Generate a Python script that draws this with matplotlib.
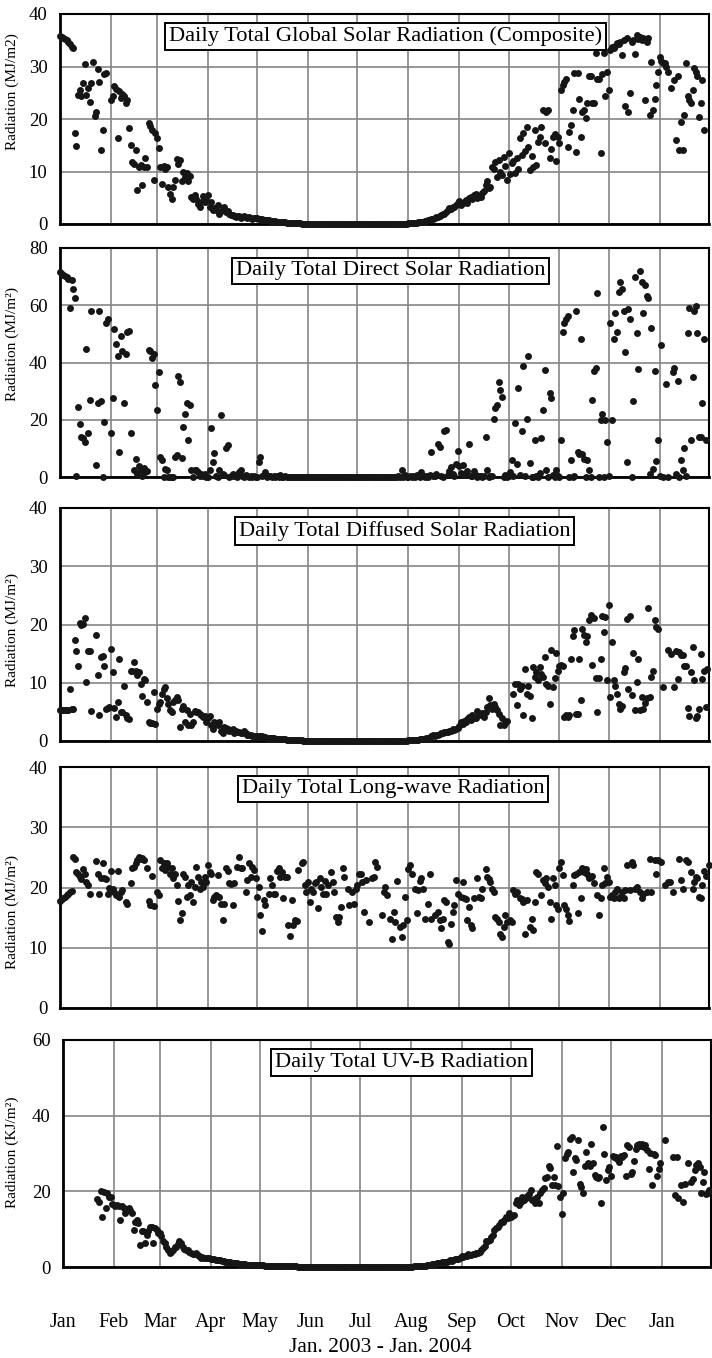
import numpy as np
import matplotlib
matplotlib.use("Agg")
import matplotlib.pyplot as plt

plt.rcParams["font.family"] = ["Liberation Serif", "DejaVu Serif"]

nan = float("nan")

# ---------------------------------------------------------------- calendar
month_start = [0, 31, 59, 90, 120, 151, 181, 212, 243, 273, 304, 334, 365]
month_labels = ["Jan", "Feb", "Mar", "Apr", "May", "Jun", "Jul",
                "Aug", "Sep", "Oct", "Nov", "Dec", "Jan"]

zeros_30 = [0.0, 0.0, 0.0, 0.0, 0.0, 0.0, 0.0, 0.0, 0.0, 0.0,
            0.0, 0.0, 0.0, 0.0, 0.0, 0.0, 0.0, 0.0, 0.0, 0.0,
            0.0, 0.0, 0.0, 0.0, 0.0, 0.0, 0.0, 0.0, 0.0, 0.0]

# ---------------------------------------------------------------- global (MJ/m2)
g_jan = [35.8, 35.6, 35.4, 35.2, 35.0, 34.6, 34.2, 33.8, 33.6, 17.3, 14.9, 24.6, 25.5, 24.3, 26.9, 30.4,
         24.6, 26.0, 23.3, 26.8, 30.9, 20.6, 21.4, 29.5, 27.1, 14.1, 18.0, 28.6, 28.8, nan, nan]
g_feb = [23.7, 24.3, 26.3, 25.8, 16.3, 25.3, 24.0, 24.8, 24.3, 23.0, 23.6, 18.2, 15.0, 11.9, 11.5, 14.1,
         6.5, 10.9, 11.2, 7.4, 10.9, 12.5, 10.9, 19.2, 18.7, 17.9, 8.4, 17.3]
g_mar = [16.3, 14.4, 10.9, 7.6, 11.0, 10.5, 10.9, 7.1, 5.8, 4.7, 7.1, 8.4, 12.3, 11.5, 12.1, 8.1,
         10.0, 9.0, 9.7, 8.1, 9.1, 5.2, 4.7, 5.5, 4.7, 3.8, 3.3, 4.2, 5.3, 4.1, 4.6]
g_apr = [5.5, 3.3, 4.2, 2.7, 3.0, 2.7, 3.6, 2.0, 2.4, 2.7, 3.3, 2.2, 2.5, 1.9, 1.7, 1.7,
         1.5, 1.4, 1.6, 1.5, 1.2, 1.4, 1.5, 1.3, 1.2, 1.4, 1.1, 1.0, 1.2, 1.1]
g_may = [1.1, 1.0, 0.9, 0.9, 0.8, 0.8, 0.7, 0.7, 0.6, 0.6, 0.5, 0.5, 0.45, 0.4, 0.4, 0.35,
         0.3, 0.3, 0.25, 0.25, 0.2, 0.2, 0.15, 0.15, 0.1, 0.1, 0.1, 0.08, 0.06, 0.05, 0.05]
g_jun = zeros_30
g_jul = [0.0, 0.0, 0.0, 0.0, 0.0, 0.0, 0.0, 0.0, 0.0, 0.0, 0.0, 0.0, 0.0, 0.0, 0.0, 0.0,
         0.0, 0.0, 0.0, 0.0, 0.0, 0.0, 0.0, 0.0, 0.0, 0.0, 0.0, 0.0, 0.02, 0.03, 0.05]
g_aug = [0.1, 0.1, 0.15, 0.2, 0.2, 0.25, 0.3, 0.3, 0.35, 0.4, 0.5, 0.6, 0.7, 0.8, 0.9, 1.0,
         1.2, 1.4, 1.3, 1.6, 1.8, 2.0, 1.9, 2.3, 2.6, 3.0, 2.8, 3.2, 3.3, 3.6, 4.0]
g_sep = [4.3, 3.6, 4.0, 4.2, 4.6, 4.0, 5.0, 5.2, 4.8, 5.5, 5.8, 5.0, 5.2, 5.2, 6.0, 6.2,
         7.4, 8.1, 6.8, 7.0, 10.9, 10.5, 11.9, 9.0, 12.2, 10.0, 9.3, 12.8, 11.0, 8.4]
g_oct = [13.5, 9.5, 11.6, 12.0, 9.7, 12.5, 10.5, 16.3, 13.1, 17.3, 14.0, 18.5, 14.7, 10.3, 13.0, 10.9,
         17.9, 11.2, 15.7, 16.5, 18.5, 21.7, 15.4, 21.4, 21.7, 12.5, 14.3, 16.6, 17.2, 12.0, 16.6]
g_nov = [15.5, 25.5, 26.5, 27.1, 27.6, 14.7, 17.6, 18.9, 21.7, 28.7, 13.8, 28.7, 23.9, 16.6, 21.4,
         21.7, 20.1, 23.0, 28.1, 28.1, 23.0, 23.0, 32.5, 27.7, 27.7, 13.5, 28.5, 32.5, 24.3, 29.0]
g_dec = [25.5, 33.1, 33.8, 33.5, 34.0, 34.4, 34.2, 34.7, 32.2, 35.0, 22.5, 35.4, 21.4, 24.9, 34.7, 35.0,
         32.4, 36.0, 35.3, 35.7, 35.0, 35.4, 23.6, 34.7, 35.4, 20.8, 30.9, 21.7, 23.9, 26.5, 29.0]
g_jan2 = [31.9, 31.0, 30.6, 30.6, 30.0, 29.0, nan, 26.0, nan, 27.4, 16.0, 28.1, 14.1, 19.5, 14.1, 20.8,
          30.6, 24.3, 23.6, 23.0, 25.5, 29.7, 29.0, 28.1, 20.4, 23.0, 27.4, 17.9, nan, nan, nan]

# ---------------------------------------------------------------- direct (MJ/m2)
d_jan = [71.5, 71.0, 70.6, 70.3, 69.8, 69.3, 59.2, 68.9, 65.6, 62.7, 0.3, 24.6, 18.4, 13.8, 13.5, 12.1,
         44.8, 15.5, 27.0, 58.0, nan, nan, 4.1, 25.8, 58.0, 26.6, 0.0, 19.3, 53.9, 55.1, nan]
d_feb = [15.5, 27.5, 51.6, 46.3, 42.2, 8.8, 49.2, 44.0, 25.8, 43.0, 50.6, 51.0, 15.5, nan, 2.3, 6.4,
         1.2, 4.0, 2.5, 0.5, 3.0, 1.8, 2.0, 44.5, 44.0, 41.6, 42.8, 32.2]
d_mar = [23.4, 36.6, 7.0, 5.9, 0.0, 2.9, 2.3, 0.0, 0.0, 0.0, 0.0, 7.0, 7.6, 35.4, 33.1, 6.8,
         17.6, 22.0, 25.8, 12.9, 25.2, 2.3, 0.0, 2.6, 2.6, 1.8, 0.5, 1.2, 0.5, 1.2, 0.0]
d_apr = [0.0, 2.3, 17.2, 5.3, 8.4, 0.5, 0.0, 2.3, 21.5, 1.0, 0.6, 10.0, 11.1, 0.0, 0.5, 1.2,
         0.3, 0.6, 0.0, 1.8, 2.6, 0.3, 0.0, 0.6, 0.2, 0.0, 0.5, 0.0, 0.3, 0.0]
d_may = [0.0, 5.3, 7.0, 0.3, 0.6, 1.8, 0.0, 0.5, 0.2, 0.0, 0.3, 0.0, 0.2, 0.0, 0.6, 0.0,
         0.0, 0.2, 0.0, 0.0, 0.1, 0.0, 0.0, 0.0, 0.0, 0.0, 0.0, 0.0, 0.0, 0.0, 0.0]
d_jun = zeros_30
d_jul = [0.0, 0.0, 0.0, 0.0, 0.0, 0.0, 0.0, 0.0, 0.0, 0.0, 0.0, 0.0, 0.0, 0.0, 0.0, 0.0,
         0.0, 0.0, 0.0, 0.0, 0.0, 0.0, 0.0, 0.0, 0.0, 0.5, 0.0, 2.3, 0.0, 0.8, 0.0]
d_aug = [0.0, 0.5, 0.0, 0.3, 0.0, 0.8, 0.2, 0.0, 1.8, 0.5, 0.0, 0.3, 0.0, 0.6, 8.8, 0.2,
         0.5, 1.0, 11.5, 10.6, 0.3, 0.0, 16.2, 16.4, 0.8, 2.1, 3.5, 1.2, 0.5, 4.5, 9.1]
d_sep = [3.8, 1.5, 4.1, 0.8, 1.5, 2.0, 11.5, 0.5, 0.3, 2.0, 0.8, 0.0, 0.3, 0.5, 0.0, 0.3,
         14.1, 2.6, 0.0, 0.5, 0.2, 20.2, 24.0, 25.2, 33.1, 30.5, 27.8, 0.0, 0.6, 0.0]
d_oct = [0.3, 1.8, 6.1, 0.2, 19.0, 4.5, 31.1, 0.8, 16.2, 38.7, 0.3, 20.3, 42.4, 4.9, 0.0, 0.0,
         12.9, 0.5, 0.0, 1.5, 13.5, 23.4, 37.5, 2.3, 0.0, 29.5, 27.5, 0.6, 0.0, 2.3, 0.3]
d_nov = [0.0, 12.9, 50.6, 53.9, 55.1, 56.3, 0.0, 6.1, 0.0, 0.3, 58.0, 8.6, 8.2, 48.3, 8.2,
         6.4, 0.0, 5.9, 2.3, 0.0, 27.0, 36.9, 38.1, 64.2, 0.0, 19.9, 22.0, 0.0, 19.9, 12.3]
d_dec = [0.5, 53.9, 19.9, 48.1, 57.4, 50.6, 64.5, 68.2, 65.6, 58.0, 43.6, 5.3, 58.6, 55.1, 0.0, 26.4,
         69.8, 50.4, 37.7, 71.9, 68.0, 57.2, 67.1, 63.1, 62.4, 1.2, 52.2, 2.9, 36.9, 5.6, 12.9]
d_jan2 = [0.3, 46.0, 0.0, nan, 32.5, 0.0, nan, nan, 36.6, 38.1, 1.0, 33.4, 0.0, 5.9, 2.3, 10.3,
          0.5, 50.2, 59.2, 12.9, 34.9, 58.0, 59.8, 50.4, 14.1, 14.1, 25.8, 48.3, 12.9, nan, nan]

# ---------------------------------------------------------------- diffuse (MJ/m2)
f_jan = [5.3, 5.3, 5.3, 5.3, 5.4, 5.3, 9.0, 5.5, 5.5, 17.4, 15.4, 12.9, 20.2, 20.0, 20.1, 21.1,
         10.2, 15.4, 15.5, 5.1, nan, nan, 18.2, 11.3, 4.4, 14.4, 14.6, 12.9, 5.5, 5.6, 5.8]
f_feb = [15.8, 11.9, 5.7, 4.1, 6.7, 14.1, 5.0, 5.0, 9.5, 4.4, 4.0, 3.7, 12.1, 12.1, 13.5, 12.1,
         11.3, 11.8, 9.8, 7.8, 10.7, 10.5, 6.7, 3.3, 3.1, 3.1, 8.4, 3.0]
f_mar = [5.5, 6.4, 6.7, 8.1, 8.9, 9.3, 7.3, 6.4, 5.3, 5.0, 6.7, 7.0, 7.5, 7.1, 2.4, 5.5,
         6.0, 3.3, 5.3, 2.7, 4.7, 2.7, 3.3, 5.1, 5.0, 5.0, 4.7, 4.4, 4.1, 4.3, 3.3]
f_apr = [3.9, 4.3, 2.7, 2.1, 3.3, 3.0, 2.7, 3.3, 1.8, 1.3, 2.4, 2.2, 2.1, 1.8, 1.9, 2.1,
         1.4, 1.8, 1.6, 1.5, 1.3, 1.4, 1.7, 1.3, 1.0, 1.1, 1.0, 0.9, 0.9, 0.8]
f_may = [0.7, 0.8, 0.8, 0.9, 0.7, 0.7, 0.6, 0.6, 0.5, 0.5, 0.5, 0.4, 0.4, 0.4, 0.3, 0.3,
         0.3, 0.3, 0.25, 0.2, 0.2, 0.2, 0.15, 0.15, 0.1, 0.1, 0.1, 0.1, 0.05, 0.05, 0.05]
f_jun = zeros_30
f_jul = [0.0, 0.0, 0.0, 0.0, 0.0, 0.0, 0.0, 0.0, 0.0, 0.0, 0.0, 0.0, 0.0, 0.0, 0.0, 0.0,
         0.0, 0.0, 0.0, 0.0, 0.0, 0.0, 0.0, 0.0, 0.0, 0.0, 0.0, 0.0, 0.03, 0.05, 0.08]
f_aug = [0.1, 0.1, 0.15, 0.15, 0.2, 0.2, 0.25, 0.3, 0.3, 0.35, 0.4, 0.45, 0.5, 0.6, 0.8, 1.0,
         0.9, 1.1, 1.0, 1.2, 1.3, 1.3, 1.5, 1.6, 1.5, 1.8, 1.8, 2.0, 1.9, 2.1, 2.3]
f_sep = [2.6, 3.3, 3.0, 3.5, 3.2, 3.8, 4.1, 3.6, 4.4, 4.0, 3.9, 5.1, 4.6, 4.4, 4.8, 4.1,
         5.0, 5.8, 7.4, 6.1, 5.5, 6.4, 5.8, 5.3, 4.7, 2.7, 3.9, 2.8, 3.1, 3.5]
f_oct = [nan, nan, nan, 8.1, 9.8, 6.1, 9.8, 9.0, 9.4, 4.5, 12.3, 8.1, 9.5, 7.8, 3.9, 12.7,
         11.0, 11.8, 10.4, 12.7, 11.5, 11.0, 14.4, 9.8, 9.5, 6.4, 15.7, 9.3, 10.8, 15.1, 12.0]
f_nov = [12.9, 13.0, 12.9, 4.1, 4.4, 4.2, 4.4, 14.1, 18.1, 19.0, 4.7, 4.7, 14.1, 7.1, 19.3,
         18.2, 17.0, 18.1, 20.7, 21.7, 13.1, 21.1, 10.8, 5.0, 10.8, 14.1, 21.5, 18.7, 21.3, 10.5]
f_dec = [23.3, 7.5, 17.0, 10.4, 9.5, 8.1, 6.4, 5.5, 6.0, 11.8, 12.5, 21.0, 9.0, 21.5, 7.9, 15.1,
         5.3, 10.1, 14.1, 5.3, 7.5, 5.5, 6.5, 7.3, 22.8, 7.5, 11.0, 12.0, 20.7, 19.5, 19.3]
f_jan2 = [nan, nan, 9.3, nan, nan, 15.7, nan, 15.0, nan, 9.3, 15.4, 10.7, 15.3, 14.7, 14.8, 12.9,
          12.9, 5.7, 4.3, 11.8, 16.1, 10.4, 4.0, 4.3, 5.5, 15.0, 10.7, 12.0, 5.8, 12.4, nan]

# ---------------------------------------------------------------- long-wave (MJ/m2)
l_jan = [17.7, 18.1, 18.3, 18.4, 18.7, 19.0, 19.3, 19.4, 25.1, 24.8, 22.5, 22.3, 21.8, 21.4, 23.1, 22.3,
         20.9, 20.4, 19.0, nan, nan, nan, 24.4, 22.3, 19.0, 21.6, 24.0, 21.5, 21.4, 19.0, 19.9]
l_feb = [22.7, 19.7, 19.3, 18.8, 22.7, 18.4, 19.3, 19.6, nan, 17.6, 17.2, nan, 20.7, 23.3, 23.4, 24.0,
         24.6, 25.1, 24.8, 24.9, 24.6, nan, 23.2, 17.7, 17.1, 21.9, 16.9, nan]
l_mar = [19.3, 18.7, 24.6, 23.3, 24.0, 22.9, 24.0, 23.4, 22.3, 23.2, 21.5, 22.2, 20.4, 17.7, 14.6, 15.7,
         22.3, 21.8, 18.4, 20.4, 18.7, 20.9, 17.6, 20.1, 23.4, 21.8, 19.8, 20.9, 20.1, 21.8, 20.9]
l_apr = [23.7, 22.6, 22.3, 17.9, 18.4, 18.7, 22.1, 18.4, 17.3, 14.6, 17.3, 23.2, 22.7, 20.7, 20.5, 17.1,
         20.7, nan, 23.4, 25.1, 23.2, 23.3, nan, 19.3, 21.2, 24.0, 21.8, 23.4, 22.9, 21.6]
l_may = [18.4, 20.1, 15.4, 12.7, 17.9, 17.1, nan, 19.0, 21.5, 20.4, 19.0, 19.0, 22.7, 23.3, 21.8, 22.6,
         18.2, 21.8, 21.8, 13.7, 11.9, 17.9, 13.7, 14.6, 14.4, 22.9, nan, 24.0, 24.2, 20.4, 19.3]
l_jun = [20.9, 17.6, 19.7, 19.3, 20.7, 20.9, 16.6, 21.5, 20.1, 19.0, 21.1, 19.0, 20.4, nan, 22.6, 20.9,
         19.3, 15.1, 14.3, 15.1, 16.8, 23.3, 21.8, nan, 19.8, 17.1, nan, 19.3, 17.2, 19.7]
l_jul = [20.4, 22.3, 22.3, 20.9, 15.9, 21.2, nan, 14.3, nan, 21.5, 21.8, 24.2, 23.4, nan, nan, 15.5,
         19.3, 20.1, 18.7, nan, 14.8, 11.4, 15.9, 14.3, 21.1, nan, 13.4, 11.8, 13.7, 18.4, 14.6]
l_aug = [23.1, 23.7, 22.3, nan, 19.8, 15.7, 19.6, 21.1, 21.5, 19.7, 14.8, nan, 17.2, 22.3, 14.8, nan,
         15.4, nan, 15.9, 14.6, 13.3, 14.8, 17.9, 17.6, 10.9, 10.7, 14.0, 15.9, 17.1, 21.2, 19.0]
l_sep = [nan, 18.4, 20.9, 18.2, 18.1, 14.6, 16.8, 13.7, 13.2, 18.2, nan, 21.5, 18.4, 18.2, 19.7, nan,
         23.1, 21.8, 21.4, 20.9, 19.8, 19.3, 15.1, 14.8, 14.3, 12.3, 11.8, 13.4, 15.4, 14.3]
l_oct = [nan, 14.6, 14.3, 19.6, 19.0, 19.3, nan, 18.2, 18.1, 17.6, 12.3, 17.9, nan, 13.4, 14.8, 12.9,
         17.6, 22.6, 22.3, nan, 18.7, 21.2, 20.7, 21.5, 20.1, 17.6, 14.8, 21.5, 20.4, 17.1, 16.5]
l_nov = [23.2, 24.3, 22.1, 17.1, 16.5, 15.4, 14.4, nan, 20.4, 22.1, 22.3, 15.7, 22.6, 18.2, 23.3,
         22.6, 23.1, 22.3, 21.5, 21.8, 21.9, 20.7, nan, 18.8, 15.5, 18.2, 20.4, 23.2, 20.8, 21.8]
l_dec = [20.9, 18.4, 18.8, 18.2, 19.3, 19.7, 18.2, 18.4, 19.3, 18.2, 19.6, 23.8, nan, 19.6, 24.3, 23.7,
         19.8, 20.1, nan, 19.3, 18.2, 19.0, nan, 19.3, nan, 24.8, 19.3, nan, 24.6, 22.3, 24.6]
l_jan2 = [nan, 24.3, nan, 20.4, nan, 20.9, 20.9, nan, 19.3, nan, nan, nan, 24.8, 21.2, 19.8, nan,
          24.6, 24.3, nan, 22.6, 19.8, 20.9, 21.8, 21.5, 18.4, 18.2, 20.4, 22.7, 21.9, nan, 23.8]

# ---------------------------------------------------------------- UV-B (KJ/m2)
u_jan = [nan, nan, nan, nan, nan, nan, nan, nan, nan, nan, nan, nan, nan, nan, nan, nan,
         nan, nan, nan, nan, nan, 17.9, 17.3, 20.2, 13.3, 19.9, 15.5, 19.5, 18.6, 18.6, 16.7]
u_feb = [16.4, 16.0, 16.3, 16.1, 12.3, 16.0, 15.5, 14.4, 15.0, 15.5, 15.1, 14.2, 9.8, 12.0, 12.5, 11.6,
         5.9, 9.4, 9.4, 6.3, 8.5, 9.5, 10.7, 10.7, 6.3, 10.3, 9.8, 9.1]
u_mar = [8.9, 8.1, 6.8, 6.3, 5.4, 4.6, 3.7, 3.9, 4.6, 5.4, 5.3, 6.0, 6.8, 6.3, 5.4, 4.7,
         4.5, 4.4, 3.9, 3.7, 3.5, 3.5, 3.7, 3.2, 3.0, 2.4, 2.6, 2.5, 2.4, 2.3, 2.4]
u_apr = [2.1, 2.2, 2.0, 1.9, 1.9, 1.8, 1.8, 1.5, 1.6, 1.4, 1.3, 1.2, 1.2, 1.1, 1.1, 1.1,
         1.0, 0.9, 0.9, 0.8, 0.8, 0.7, 0.6, 0.6, 0.6, 0.5, 0.5, 0.5, 0.4, 0.4]
u_may = [0.4, 0.4, 0.4, 0.35, 0.35, 0.35, 0.3, 0.3, 0.3, 0.3, 0.3, 0.25, 0.25, 0.25, 0.2, 0.2,
         0.2, 0.2, 0.2, 0.15, 0.15, 0.15, 0.15, 0.1, 0.1, 0.1, 0.1, 0.1, 0.1, 0.05, 0.05]
u_jun = zeros_30
u_jul = [0.0, 0.0, 0.0, 0.0, 0.0, 0.0, 0.0, 0.0, 0.0, 0.0, 0.0, 0.0, 0.0, 0.0, 0.0, 0.0,
         0.0, 0.0, 0.0, 0.0, 0.0, 0.0, 0.0, 0.0, 0.0, 0.0, 0.0, 0.0, 0.05, 0.05, 0.1]
u_aug = [0.1, 0.1, 0.15, 0.15, 0.2, 0.2, 0.25, 0.3, 0.3, 0.35, 0.4, 0.5, 0.6, 0.7, 0.8, 0.9,
         1.0, 1.0, 1.1, 1.2, 1.3, 1.2, 1.4, 1.5, 1.8, 1.7, 1.9, 2.0, 2.1, 2.2, 2.4]
u_sep = [2.8, 2.7, 3.0, 3.0, 3.5, 3.3, 3.2, 3.4, 3.5, 3.6, 3.7, 4.0, 4.6, 5.0, 5.6, 6.8,
         6.9, 7.2, 8.0, 8.5, 9.8, 10.3, 10.7, 11.2, 11.8, 12.0, 12.4, 13.3, 13.0, 14.2]
u_oct = [13.3, 13.5, 13.8, 16.8, 17.7, 16.4, 17.3, 18.6, 17.7, 18.2, 18.8, 19.3, 20.4, 17.7, 18.0, 16.8,
         18.6, 17.0, 19.6, 20.4, 20.8, 23.4, 23.9, 26.7, 26.1, 21.7, 23.9, 21.7, 31.9, 21.4, 18.6]
u_nov = [14.0, 19.6, 28.7, 30.0, 30.4, 33.9, 34.4, 25.2, 28.7, 28.4, 33.5, 21.9, 21.2, 19.5, 26.7,
         30.4, 27.5, 26.7, 32.6, 27.4, 24.3, 23.9, 23.4, 23.9, 17.0, 37.0, 30.0, 23.0, 25.6, 26.5]
u_dec = [24.0, 29.3, 29.1, 29.1, 28.5, 27.8, 29.3, 29.0, 29.6, 24.0, 32.2, 31.8, 24.7, 25.2, 28.0, 31.1,
         32.2, 32.6, 32.0, 32.6, 31.8, 32.2, 30.9, 25.8, 30.2, 21.7, 30.0, 29.6, 24.0, 26.0, 27.5]
u_jan2 = [nan, nan, 33.7, nan, nan, nan, nan, 29.1, 19.0, 29.1, 18.2, nan, 21.7, 17.3, 21.9, nan,
          27.4, nan, 22.5, 23.2, 25.6, 26.9, 27.5, 26.5, 19.6, 22.5, 25.2, 19.3, 19.5, 20.4, nan]

global_months = [g_jan, g_feb, g_mar, g_apr, g_may, g_jun, g_jul, g_aug, g_sep, g_oct, g_nov, g_dec, g_jan2]
direct_months = [d_jan, d_feb, d_mar, d_apr, d_may, d_jun, d_jul, d_aug, d_sep, d_oct, d_nov, d_dec, d_jan2]
diffuse_months = [f_jan, f_feb, f_mar, f_apr, f_may, f_jun, f_jul, f_aug, f_sep, f_oct, f_nov, f_dec, f_jan2]
longwave_months = [l_jan, l_feb, l_mar, l_apr, l_may, l_jun, l_jul, l_aug, l_sep, l_oct, l_nov, l_dec, l_jan2]
uvb_months = [u_jan, u_feb, u_mar, u_apr, u_may, u_jun, u_jul, u_aug, u_sep, u_oct, u_nov, u_dec, u_jan2]

titles = ["Daily Total Global Solar Radiation (Composite)",
          "Daily Total Direct Solar Radiation",
          "Daily Total Diffused Solar Radiation",
          "Daily Total Long-wave Radiation",
          "Daily Total UV-B Radiation"]
ylabels = ["Radiation (MJ/m2)", "Radiation (MJ/m\u00b2)", "Radiation (MJ/m\u00b2)",
           "Radiation (MJ/m\u00b2)", "Radiation (KJ/m\u00b2)"]
y_ticks = [[0, 10, 20, 30, 40], [0, 20, 40, 60, 80], [0, 10, 20, 30, 40],
           [0, 10, 20, 30, 40], [0, 20, 40, 60]]


def daily(months):
    """Turn a list of per-month daily lists into day-index / value arrays."""
    xs, ys = [], []
    for start, vals in zip(month_start, months):
        for i, v in enumerate(vals):
            xs.append(start + i)
            ys.append(v)
    return np.array(xs, float), np.array(ys, float)


W, H = 712, 1358
fig = plt.figure(figsize=(W / 100, H / 100), dpi=100)

# panel frames in pixels: left, top, right, bottom
frames = [(60, 14, 709, 224), (60, 248, 709, 477), (60, 508, 709, 741),
          (60, 767, 709, 1008), (63, 1040, 711, 1267)]
title_pos = [(0.501, 0.893), (0.509, 0.900), (0.531, 0.901), (0.513, 0.909), (0.522, 0.901)]
ylabel_y = [0.633, 0.581, 0.476, 0.398, 0.507]

series = [global_months, direct_months, diffuse_months, longwave_months, uvb_months]

for k, (fr, months) in enumerate(zip(frames, series)):
    l, t, r, b = fr
    ax = fig.add_axes([l / W, 1 - b / H, (r - l) / W, (b - t) / H])
    x, y = daily(months)
    ax.scatter(x, y, s=25, color="#161616", linewidths=0, zorder=3, clip_on=False)
    ax.set_xlim(0, 395)
    ax.set_ylim(y_ticks[k][0], y_ticks[k][-1])
    ax.set_xticks(month_start)
    ax.set_yticks(y_ticks[k])
    ax.grid(True, color="#858585", lw=1.2)
    ax.set_axisbelow(True)
    ax.tick_params(length=0, labelsize=13.5, pad=9)
    for side in ("left", "bottom"):
        ax.spines[side].set_linewidth(2.0)
    for side in ("top", "right"):
        ax.spines[side].set_linewidth(1.5)
    if k == 4:
        ax.set_xticklabels(month_labels, fontsize=14.5)
        ax.tick_params(axis="x", pad=33)
    else:
        ax.set_xticklabels([])
    ax.set_ylabel(ylabels[k], fontsize=11)
    ax.yaxis.set_label_coords((19 - l) / (r - l), ylabel_y[k])
    ax.text(title_pos[k][0], title_pos[k][1], titles[k], transform=ax.transAxes,
            ha="center", va="center", fontsize=16.2, zorder=6,
            bbox=dict(boxstyle="square,pad=0.17", fc="white", ec="black", lw=1.4))

fig.text(380 / W, 1 - 1347 / H, "Jan. 2003 - Jan. 2004", ha="center", va="center", fontsize=15.5)

fig.savefig("out.png", dpi=100)
